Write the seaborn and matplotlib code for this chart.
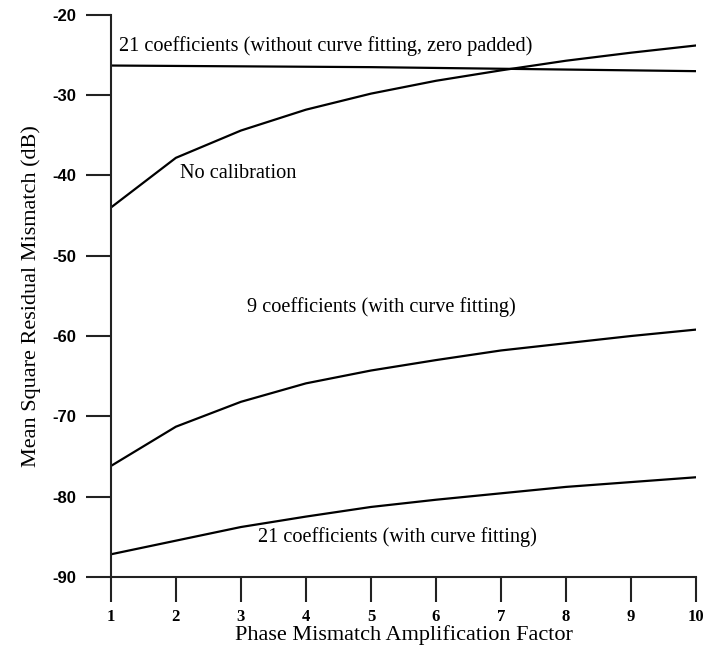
import matplotlib
matplotlib.use('Agg')
import matplotlib.pyplot as plt
import seaborn as sns
import pandas as pd

# Data
factor = [1, 2, 3, 4, 5, 6, 7, 8, 9, 10]
zero_padded_21 = [-26.3, -26.35, -26.4, -26.45, -26.5, -26.6, -26.7, -26.8, -26.9, -27.0]
no_calibration = [-44.0, -37.8, -34.4, -31.8, -29.8, -28.2, -26.9, -25.7, -24.7, -23.8]
fit_9 = [-76.2, -71.3, -68.2, -65.9, -64.3, -63.0, -61.8, -60.9, -60.0, -59.2]
fit_21 = [-87.2, -85.5, -83.8, -82.5, -81.3, -80.4, -79.6, -78.8, -78.2, -77.6]

series_names = [
    '21 coefficients (without curve fitting, zero padded)',
    'No calibration',
    '9 coefficients (with curve fitting)',
    '21 coefficients (with curve fitting)',
]

df = pd.DataFrame({
    'factor': factor * 4,
    'value': zero_padded_21 + no_calibration + fit_9 + fit_21,
    'series': [n for n in series_names for _ in factor],
})

sns.set_theme(style='white')
plt.rcParams['font.family'] = ['Liberation Serif', 'DejaVu Serif']
plt.rcParams['axes.unicode_minus'] = False
plt.rcParams['text.color'] = 'black'
plt.rcParams['axes.labelcolor'] = 'black'
plt.rcParams['xtick.color'] = 'black'
plt.rcParams['ytick.color'] = 'black'

fig = plt.figure(figsize=(7.06, 6.51), dpi=100, facecolor='white')
ax = fig.add_axes([0.157, 0.114, 0.829, 0.863])

sns.lineplot(data=df, x='factor', y='value', hue='series',
             palette=['black'] * 4, linewidth=1.6, legend=False, ax=ax)

# In-plot labels instead of a legend
ax.text(1.13, -23.9, series_names[0], fontsize=14.6, va='center', ha='left')
ax.text(2.06, -39.7, series_names[1], fontsize=14.6, va='center', ha='left')
ax.text(3.1, -56.4, series_names[2], fontsize=14.6, va='center', ha='left')
ax.text(3.26, -85.1, series_names[3], fontsize=14.6, va='center', ha='left')

ax.set_xlim(1, 10)
ax.set_ylim(-90, -20)
ax.set_xticks(factor)
ax.set_yticks(range(-90, -19, 10))

ax.set_xlabel('Phase Mismatch Amplification Factor', fontsize=16, labelpad=0.5)
ax.set_ylabel('Mean Square Residual Mismatch (dB)', fontsize=16, labelpad=8)

for lab in ax.get_xticklabels():
    lab.set_fontweight('bold')
    lab.set_fontsize(12)
for lab in ax.get_yticklabels():
    lab.set_fontweight('bold')
    lab.set_fontsize(12)
    lab.set_family(['Liberation Sans', 'DejaVu Sans'])

ax.tick_params(axis='both', which='major', length=18, width=1.5, color='#222222',
               direction='out', left=True, bottom=True, pad=7)
ax.tick_params(axis='x', pad=5)

for side in ['top', 'right']:
    ax.spines[side].set_visible(False)
for side in ['left', 'bottom']:
    ax.spines[side].set_color('#222222')
    ax.spines[side].set_linewidth(1.5)

ax.grid(False)

fig.savefig('out.png', dpi=100, facecolor='white')
plt.close(fig)
